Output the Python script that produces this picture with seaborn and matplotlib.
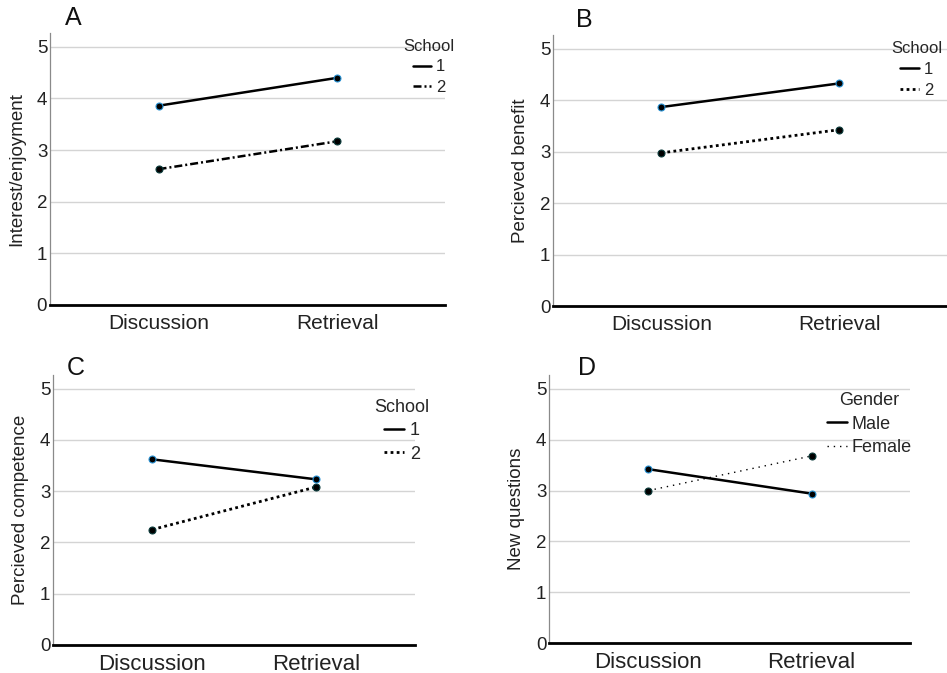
import matplotlib
matplotlib.use("Agg")
import matplotlib.pyplot as plt
from matplotlib.lines import Line2D
import seaborn as sns
import pandas as pd

# ---------------- data ----------------
conditions = ["Discussion", "Retrieval"]
school_levels = ["1", "2"]
gender_levels = ["Male", "Female"]

interest_school1 = [3.86, 4.40]
interest_school2 = [2.63, 3.17]
benefit_school1 = [3.87, 4.33]
benefit_school2 = [2.98, 3.43]
competence_school1 = [3.62, 3.23]
competence_school2 = [2.25, 3.08]
questions_male = [3.42, 2.94]
questions_female = [3.00, 3.68]

y_ticks = [0, 1, 2, 3, 4, 5]
panel_letters = ["A", "B", "C", "D"]
y_labels = ["Interest/enjoyment", "Percieved benefit", "Percieved competence", "New questions"]
legend_titles = ["School", "School", "School", "Gender"]

# ---------------- style ----------------
sns.set_theme(style="white")
plt.rcParams["font.family"] = ["Liberation Sans", "DejaVu Sans"]

fig = plt.figure(figsize=(9.47, 6.73), dpi=100)

solid = "-"
dashdot = (0, (3.2, 1.2, 0.8, 1.2))
dotted = (0, (1, 1.2))
thin_dotted = (0, (1, 3.5))

panels = [
    dict(levels=school_levels, series=[interest_school1, interest_school2],
         styles=[solid, dashdot], widths=[1.8, 1.8],
         rect=[0.0528, 0.547, 0.417, 0.404], leg=(0.453, 0.950), legfs=12,
         letter=(0.0686, 0.973), xfs=15),
    dict(levels=school_levels, series=[benefit_school1, benefit_school2],
         styles=[solid, dotted], widths=[1.8, 2.0],
         rect=[0.584, 0.545, 0.416, 0.403], leg=(0.968, 0.946), legfs=12,
         letter=(0.608, 0.970), xfs=15),
    dict(levels=school_levels, series=[competence_school1, competence_school2],
         styles=[solid, dotted], widths=[1.8, 2.0],
         rect=[0.056, 0.042, 0.382, 0.401], leg=(0.4245, 0.415), legfs=13,
         letter=(0.0708, 0.453), xfs=16),
    dict(levels=gender_levels, series=[questions_male, questions_female],
         styles=[solid, thin_dotted], widths=[1.8, 1.0],
         rect=[0.580, 0.0441, 0.381, 0.3987], leg=(0.918, 0.425), legfs=13,
         letter=(0.610, 0.453), xfs=16),
]

edge_colors = ["#2a93d5", "#0b3b3b"]

for i, p in enumerate(panels):
    ax = fig.add_axes(p["rect"])
    rows = []
    for lvl, vals in zip(p["levels"], p["series"]):
        for c, v in zip(conditions, vals):
            rows.append({"Condition": c, "Group": lvl, "Score": v})
    df = pd.DataFrame(rows)

    sns.pointplot(data=df, x="Condition", y="Score", hue="Group",
                  hue_order=p["levels"], order=conditions,
                  palette=["black", "black"], markers="o",
                  linestyles=["-", "-"], errorbar=None, legend=False, ax=ax)

    data_lines = [ln for ln in ax.lines if len(ln.get_xdata()) == len(conditions)]
    for j, ln in enumerate(data_lines[:2]):
        ln.set_linestyle(p["styles"][j])
        ln.set_linewidth(p["widths"][j])
        ln.set_marker("o")
        ln.set_markersize(5)
        ln.set_markerfacecolor("black")
        ln.set_markeredgecolor(edge_colors[j])
        ln.set_markeredgewidth(0.8)
        ln.set_zorder(3 - j * 0.5)

    ax.set_xlim(-0.608, 1.604)
    ax.set_ylim(0, 5.27)
    ax.set_yticks(y_ticks)
    ax.set_yticklabels([str(t) for t in y_ticks])
    ax.yaxis.grid(True, color="#d4d4d4", linewidth=1.0)
    ax.xaxis.grid(False)
    ax.set_axisbelow(True)
    for spine in ["top", "right"]:
        ax.spines[spine].set_visible(False)
    ax.spines["left"].set_color("#8a8a8a")
    ax.spines["left"].set_linewidth(0.9)
    ax.spines["bottom"].set_color("black")
    ax.spines["bottom"].set_linewidth(2.0)
    ax.spines["bottom"].set_zorder(4)
    ax.tick_params(axis="y", length=0, pad=2, labelsize=13.5, colors="#222222")
    ax.tick_params(axis="x", length=0, pad=6.5, labelsize=p["xfs"], colors="#222222")
    ax.set_xlabel("")
    ax.set_ylabel(y_labels[i], fontsize=13.5, labelpad=8, color="#222222")

    handles = [Line2D([], [], color="black", linestyle=p["styles"][j],
                      linewidth=p["widths"][j]) for j in range(2)]
    ax.legend(handles, p["levels"], title=legend_titles[i], loc="upper center",
              bbox_to_anchor=p["leg"], bbox_transform=fig.transFigure,
              frameon=False, fontsize=p["legfs"], title_fontsize=p["legfs"],
              handlelength=1.1, handletextpad=0.3, labelspacing=0.35,
              borderpad=0.3, borderaxespad=0)

    fig.text(p["letter"][0], p["letter"][1], panel_letters[i], fontsize=18,
             ha="left", va="center", color="#111111")

fig.savefig("out.png", dpi=100)
